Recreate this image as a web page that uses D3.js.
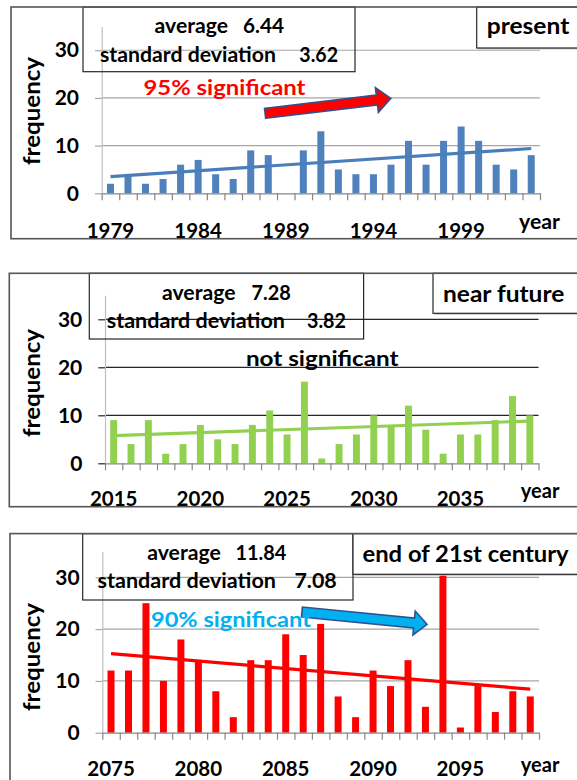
<!DOCTYPE html>
<html><head><meta charset="utf-8">
<script src="https://cdn.jsdelivr.net/npm/d3@7"></script>
<style>
html,body{margin:0;padding:0;background:#fff;}
svg{display:block;}
text{font-family:Lato,"Open Sans",sans-serif;font-weight:bold;}
</style>
</head><body>
<svg id="c" width="577" height="780"></svg>
<script>
// ---------- data ----------
const presentYears = [1979,1980,1981,1982,1983,1984,1985,1986,1987,1988,1989,1990,1991,1992,1993,1994,1995,1996,1997,1998,1999,2000,2001,2002,2003];
const presentCounts = [2,4,2,3,6,7,4,3,9,8,0,9,13,5,4,4,6,11,6,11,14,11,6,5,8];
const presentTickLabels = ["1979","1984","1989","1994","1999"];
const presentTrend = [3.5, 9.4];

const nearYears = [2015,2016,2017,2018,2019,2020,2021,2022,2023,2024,2025,2026,2027,2028,2029,2030,2031,2032,2033,2034,2035,2036,2037,2038,2039];
const nearCounts = [9,4,9,2,4,8,5,4,8,11,6,17,1,4,6,10,8,12,7,2,6,6,9,14,10];
const nearTickLabels = ["2015","2020","2025","2030","2035"];
const nearTrend = [5.75, 8.8];

const endYears = [2075,2076,2077,2078,2079,2080,2081,2082,2083,2084,2085,2086,2087,2088,2089,2090,2091,2092,2093,2094,2095,2096,2097,2098,2099];
const endCounts = [12,12,25,10,18,14,8,3,14,14,19,15,21,7,3,12,9,14,5,31,1,9,4,8,7];
const endTickLabels = ["2075","2080","2085","2090","2095"];
const endTrend = [15.25, 8.4];

const yTicks = [0,10,20,30];
const yMax = 35;
const titles = ["present","near future","end of 21st century"];
const averages = ["6.44","7.28","11.84"];
const stdDevs = ["3.62","3.82","7.08"];
const significance = ["95% significant","not significant","90% significant"];
// arrows in data units (category index, frequency)
const presentArrow = {from:[9.32,16.77], to:[16.49,19.92]};
const endArrow = {from:[11.43,23.3], to:[18.59,20.93]};

// ---------- layout / style ----------
const panels = [
  {years:presentYears, counts:presentCounts, tickLabels:presentTickLabels, trend:presentTrend,
   title:titles[0], avg:averages[0], sd:stdDevs[0], sig:significance[0], arrow:presentArrow,
   color:"#4f81bd", lineColor:"#4a7ebb", sigColor:"#ff0000", arrowFill:"#ff0000",
   L:{x0:101.7,x1:540,y0:193.3,yTop:26.4,grid:"#a6a6a6",bx:11,by:7,bb:238.7,
      sb:[83,355,7,71.7], tb:[476.7,7,48], labelY:237.5, freqY:111,
      tAvg:[154.6,228,33.3], tAvgV:[243,284,33.3], tSd:[100,276,61.5], tSdV:[299.3,338,61.5],
      tTitle:[486.7,569.3,33.5,23], tSig:[143.5,305.5,95], tYear:[519,560,229],
      arrow:{hs:5,hh:12.5,hl:14}}},
  {years:nearYears, counts:nearCounts, tickLabels:nearTickLabels, trend:nearTrend,
   title:titles[1], avg:averages[1], sd:stdDevs[1], sig:significance[1], arrow:null,
   color:"#92d050", lineColor:"#92d050", sigColor:"#000000",
   L:{x0:105,x1:538.5,y0:463.3,yTop:295.3,grid:"#262626",bx:9.3,by:273.3,bb:506.7,
      sb:[89.3,363.6,273.3,339], tb:[433,273.3,313.3], labelY:506, freqY:383,
      tAvg:[162,235.5,300], tAvgV:[251.4,290.8,300], tSd:[106.7,285,328.3], tSdV:[307,346,328.3],
      tTitle:[443,564.3,302.3,23], tSig:[245.9,398.6,366], tYear:[520.8,559.4,498.3]}},
  {years:endYears, counts:endCounts, tickLabels:endTickLabels, trend:endTrend,
   title:titles[2], avg:averages[2], sd:stdDevs[2], sig:significance[2], arrow:endArrow,
   color:"#ff0000", lineColor:"#ff0000", sigColor:"#00b0f0", arrowFill:"#00b0f0",
   L:{x0:102.3,x1:539,y0:732.7,yTop:551.4,grid:"#a6a6a6",bx:10,by:533.6,bb:800,
      sb:[82.7,353,533.6,600], tb:[353,533.6,574.3], labelY:776, freqY:657,
      tAvg:[147.2,220.8,560], tAvgV:[235.5,286.3,560], tSd:[97.5,276,588.3], tSdV:[294.4,336.8,588.3],
      tTitle:[362.5,568.6,561.7,23], tSig:[151,311,627], tYear:[520.8,559.4,771.7],
      arrow:{hs:5,hh:12,hl:13}}}
];

const svg = d3.select("#c");
svg.append("rect").attr("width",577).attr("height",780).attr("fill","#fff");

function txt(g, s, x0, x1, yb, size, color){
  return g.append("text").attr("x",x0).attr("y",yb).attr("font-size",size)
    .attr("fill",color||"#000").attr("textLength",x1-x0)
    .attr("lengthAdjust","spacingAndGlyphs").text(s);
}

function drawPanel(p){
  const L = p.L;
  const g = svg.append("g");
  const n = p.years.length;
  const xb = d3.scaleBand().domain(p.years).range([L.x0,L.x1]).paddingInner(0.6).paddingOuter(0.3);
  const xl = d3.scaleLinear().domain([0,n]).range([L.x0,L.x1]);
  const y = d3.scaleLinear().domain([0,yMax]).range([L.y0,L.yTop]);
  const cx = yr => xb(yr) + xb.bandwidth()/2;

  // gridlines
  g.selectAll("line.grid").data(yTicks.filter(v=>v>0)).join("line").attr("class","grid")
    .attr("x1",L.x0).attr("x2",L.x1).attr("y1",d=>y(d)).attr("y2",d=>y(d))
    .attr("stroke",L.grid).attr("stroke-width",1.2);

  // y axis
  const ya = g.append("g").attr("transform",`translate(${L.x0},0)`)
    .call(d3.axisLeft(y).tickValues(yTicks).tickSize(6.7).tickSizeOuter(0).tickPadding(16));
  ya.attr("font-size",21).attr("font-family",null);
  ya.select(".domain").attr("stroke","#bfbfbf").attr("stroke-width",1.2);
  ya.selectAll(".tick line").attr("stroke",L.grid).attr("stroke-width",1.2);
  ya.selectAll(".tick text").attr("fill","#000");

  // bars
  g.selectAll("rect.bar").data(p.counts).join("rect").attr("class","bar")
    .attr("x",(d,i)=>xb(p.years[i])).attr("width",xb.bandwidth())
    .attr("y",d=>y(d)).attr("height",d=>y(0)-y(d)).attr("fill",p.color);

  // x axis with boundary ticks
  const xa = g.append("g").attr("transform",`translate(0,${L.y0})`)
    .call(d3.axisBottom(xl).tickValues(d3.range(n+1)).tickSize(7).tickSizeOuter(0).tickFormat(""));
  xa.select(".domain").attr("stroke","#868686").attr("stroke-width",1.2);
  xa.selectAll(".tick line").attr("stroke","#868686").attr("stroke-width",1.2);

  // x labels
  g.selectAll("text.xlab").data(p.tickLabels).join("text").attr("class","xlab")
    .attr("x",d=>cx(+d)).attr("y",L.labelY).attr("text-anchor","middle")
    .attr("font-size",20.5).attr("fill","#000").text(d=>d);

  // trend line
  g.append("line")
    .attr("x1",cx(p.years[0])).attr("y1",y(p.trend[0]))
    .attr("x2",cx(p.years[n-1])).attr("y2",y(p.trend[1]))
    .attr("stroke",p.lineColor).attr("stroke-width",3.2);

  // frequency label
  g.append("text").attr("transform",`translate(40,${L.freqY}) rotate(-90)`)
    .attr("text-anchor","middle").attr("font-size",23).attr("fill","#000")
    .attr("textLength",108).attr("lengthAdjust","spacingAndGlyphs").text("frequency");

  // year label
  txt(g,"year",L.tYear[0],L.tYear[1],L.tYear[2],20);

  // arrow
  if (p.arrow){
    const A = L.arrow;
    const t = [xl(p.arrow.from[0]), y(p.arrow.from[1])];
    const h = [xl(p.arrow.to[0]), y(p.arrow.to[1])];
    const dx = h[0]-t[0], dy = h[1]-t[1], len = Math.hypot(dx,dy);
    const u = [dx/len, dy/len], nn = [-u[1], u[0]];
    const b = [h[0]-u[0]*A.hl, h[1]-u[1]*A.hl];
    const P = (pt,k)=>[pt[0]+nn[0]*k, pt[1]+nn[1]*k];
    const pts = [P(t,A.hs),P(b,A.hs),P(b,A.hh),h,P(b,-A.hh),P(b,-A.hs),P(t,-A.hs)];
    g.append("path").attr("d","M"+pts.map(q=>q.join(",")).join("L")+"Z")
      .attr("fill",p.arrowFill).attr("stroke","#2f528f").attr("stroke-width",1.6)
      .attr("stroke-linejoin","miter");
  }

  // significance text
  txt(g,p.sig,L.tSig[0],L.tSig[1],L.tSig[2],21,p.sigColor);

  // stats box
  const sb = L.sb;
  g.append("rect").attr("x",sb[0]).attr("y",sb[2]).attr("width",sb[1]-sb[0]).attr("height",sb[3]-sb[2])
    .attr("fill","none").attr("stroke","#262626").attr("stroke-width",1.2);
  txt(g,"average",L.tAvg[0],L.tAvg[1],L.tAvg[2],20);
  txt(g,p.avg,L.tAvgV[0],L.tAvgV[1],L.tAvgV[2],20);
  txt(g,"standard deviation",L.tSd[0],L.tSd[1],L.tSd[2],20);
  txt(g,p.sd,L.tSdV[0],L.tSdV[1],L.tSdV[2],20);

  // title box
  const tb = L.tb;
  g.append("rect").attr("x",tb[0]+1.5).attr("y",tb[1]+1.5).attr("width",620-tb[0]).attr("height",tb[2]-tb[1])
    .attr("fill","#c8c8c8");
  g.append("rect").attr("x",tb[0]).attr("y",tb[1]).attr("width",620-tb[0]).attr("height",tb[2]-tb[1])
    .attr("fill","#fff").attr("stroke","#262626").attr("stroke-width",1.2);
  txt(g,p.title,L.tTitle[0],L.tTitle[1],L.tTitle[2],L.tTitle[3]);

  // panel border
  g.append("rect").attr("x",L.bx).attr("y",L.by).attr("width",620-L.bx).attr("height",L.bb-L.by)
    .attr("fill","none").attr("stroke","#555").attr("stroke-width",1.6);
}

panels.forEach(drawPanel);
</script>
</body></html>
